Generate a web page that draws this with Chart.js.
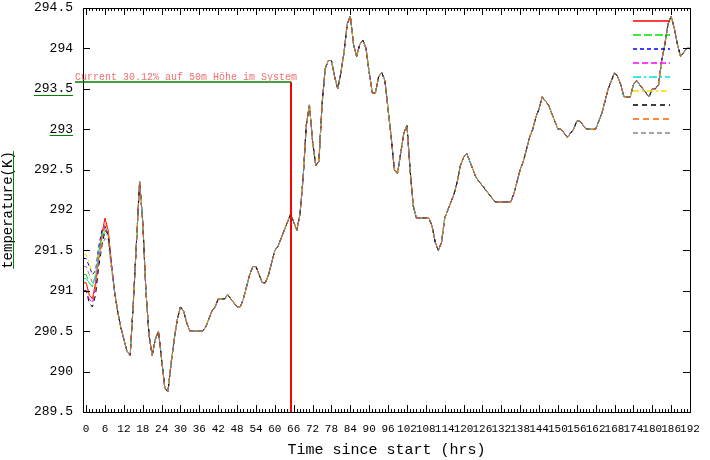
<!DOCTYPE html>
<html><head><meta charset="utf-8">
<script src="https://cdn.jsdelivr.net/npm/chart.js@4.4.1/dist/chart.umd.min.js"></script>
<style>html,body{margin:0;padding:0;background:#fff}#wrap{width:710px;height:460px}</style>
</head><body><div id="wrap"><canvas id="c" width="710" height="460"></canvas></div>
<script>
// ---- data (hours -1 .. 192) ----
const headRed     = [291.1, 291.1, 290.95, 290.9, 291.1, 291.4, 291.7, 291.9, 291.75, 291.35];
const headGreen   = [291.2, 291.2, 291.1, 291.05, 291.2, 291.5, 291.7, 291.8, 291.7, 291.35];
const headBlue    = [291.4, 291.4, 291.3, 291.2, 291.25, 291.55, 291.75, 291.8, 291.7, 291.35];
const headMagenta = [291.0, 291.0, 290.9, 290.85, 291.05, 291.4, 291.65, 291.8, 291.7, 291.35];
const headCyan    = [291.15, 291.15, 291.1, 291.05, 291.2, 291.45, 291.65, 291.75, 291.65, 291.3];
const headYellow  = [291.45, 291.45, 291.35, 291.2, 291.2, 291.45, 291.6, 291.75, 291.7, 291.3];
const headBlack   = [291.0, 291.0, 290.85, 290.8, 290.95, 291.3, 291.55, 291.75, 291.7, 291.3];
const headOrange  = [291.1, 291.1, 290.95, 290.9, 291.05, 291.4, 291.65, 291.85, 291.75, 291.35];
const headGray    = [291.3, 291.3, 291.2, 291.1, 291.15, 291.4, 291.55, 291.65, 291.6, 291.3];
// shared part, hours 9 .. 192
const tail = [
 291.0, 290.75, 290.55, 290.4, 290.25, 290.2, 290.85, 291.6, 292.35, 291.85,
 291.0, 290.45, 290.2, 290.4, 290.5, 290.15, 289.8, 289.75, 290.1, 290.4,
 290.65, 290.8, 290.75, 290.6, 290.5, 290.5, 290.5, 290.5, 290.5, 290.55,
 290.65, 290.75, 290.8, 290.9, 290.9, 290.9, 290.95, 290.9, 290.85, 290.8,
 290.8, 290.9, 291.05, 291.2, 291.3, 291.3, 291.2, 291.1, 291.1, 291.2,
 291.35, 291.5, 291.55, 291.65, 291.75, 291.85, 291.95, 291.85, 291.75, 291.95,
 292.4, 293.05, 293.3, 292.85, 292.55, 292.6, 293.3, 293.75, 293.85, 293.85,
 293.65, 293.5, 293.7, 293.95, 294.3, 294.4, 294.05, 293.9, 294.05, 294.1,
 294.0, 293.7, 293.45, 293.45, 293.65, 293.7, 293.6, 293.25, 292.9, 292.5,
 292.45, 292.7, 292.95, 293.05, 292.5, 292.05, 291.9, 291.9, 291.9, 291.9,
 291.9, 291.8, 291.6, 291.5, 291.6, 291.9, 292.0, 292.1, 292.2, 292.35,
 292.55, 292.65, 292.7, 292.6, 292.5, 292.4, 292.35, 292.3, 292.25, 292.2,
 292.15, 292.1, 292.1, 292.1, 292.1, 292.1, 292.1, 292.2, 292.35, 292.5,
 292.6, 292.75, 292.9, 293.0, 293.15, 293.25, 293.4, 293.35, 293.3, 293.2,
 293.1, 293.0, 293.0, 292.95, 292.9, 292.95, 293.0, 293.1, 293.1, 293.05,
 293.0, 293.0, 293.0, 293.0, 293.1, 293.2, 293.35, 293.5, 293.6, 293.7,
 293.65, 293.55, 293.4, 293.4, 293.4, 293.55, 293.6, 293.55, 293.5, 293.45,
 293.4, 293.5, 293.5, 293.55, 293.85, 294.05, 294.3, 294.4, 294.25, 294.05,
 293.9, 293.95, 294.0, 294.0
];
const firstHour = -1;
const xTickValues = [0,6,12,18,24,30,36,42,48,54,60,66,72,78,84,90,96,102,108,114,120,126,132,138,144,150,156,162,168,174,180,186,192];
const yTickValues = [289.5,290,290.5,291,291.5,292,292.5,293,293.5,294,294.5];
const currentHour = 65;
const currentLevel = 293.58;
const currentText = 'Current 30.12% auf 50m Höhe im System';
const underlinedTicks = [293.5, 293];

const heads = [headRed, headGreen, headBlue, headMagenta, headCyan, headYellow, headBlack, headOrange, headGray];
const colors = ['#ff0000','#00e000','#0000ff','#ff00ff','#00e0e0','#f0e000','#000000','#ff6000','#888888'];
const dashes = [[], [8,3], [4,3], [6,3], [8,3,2,3], [6,3,2,3], [5,4], [6,4], [5,3]];

const datasets = heads.map((h, i) => {
  const vals = h.concat(tail);
  return {
    label: '',
    data: vals.map((v, k) => ({x: firstHour + k, y: v})),
    borderColor: colors[i], borderDash: dashes[i], borderWidth: 1,
    pointRadius: 0, tension: 0, fill: false,
    order: heads.length - 1 - i
  };
});

const MONO = '"Liberation Mono", "DejaVu Sans Mono", monospace';

const decor = {
  id: 'decor',
  afterDatasetsDraw(chart) {
    const {ctx, chartArea: a, scales: {x, y}} = chart;
    ctx.save();
    ctx.setLineDash([]);
    ctx.lineWidth = 1;
    // frame & ticks
    ctx.strokeStyle = '#000';
    ctx.beginPath();
    for (const v of yTickValues) {
      const py = Math.round(y.getPixelForValue(v)) + 0.5;
      ctx.moveTo(a.left, py); ctx.lineTo(a.left + 7, py);
      ctx.moveTo(a.right, py); ctx.lineTo(a.right - 7, py);
    }
    for (let k = 0; k < xTickValues.length; k++) {
      const v = xTickValues[k];
      const px = Math.round(x.getPixelForValue(v)) + 0.5;
      ctx.moveTo(px, a.bottom); ctx.lineTo(px, a.bottom - 7);
      ctx.moveTo(px, a.top); ctx.lineTo(px, a.top + 7);
      for (let m = 1; m < 6; m++) {
        const mv = v + m;
        if (mv > x.max) break;
        const mx = Math.round(x.getPixelForValue(mv)) + 0.5;
        ctx.moveTo(mx, a.bottom); ctx.lineTo(mx, a.bottom - 3);
        ctx.moveTo(mx, a.top); ctx.lineTo(mx, a.top + 3);
      }
    }
    ctx.stroke();
    ctx.strokeRect(Math.round(a.left) + 0.5, Math.round(a.top) + 0.5, Math.round(a.right - a.left), Math.round(a.bottom - a.top));
    // annotation
    const cx = Math.round(x.getPixelForValue(currentHour));
    const cy = Math.round(y.getPixelForValue(currentLevel));
    ctx.strokeStyle = '#ff0000'; ctx.lineWidth = 2;
    ctx.beginPath(); ctx.moveTo(cx, cy); ctx.lineTo(cx, a.bottom); ctx.stroke();
    ctx.strokeStyle = '#008000'; ctx.lineWidth = 1.5;
    ctx.beginPath(); ctx.moveTo(a.left - 8, cy); ctx.lineTo(cx, cy); ctx.stroke();
    ctx.fillStyle = '#f07070'; ctx.font = '10px ' + MONO;
    ctx.textBaseline = 'alphabetic'; ctx.textAlign = 'left';
    ctx.fillText(currentText, a.left - 8, cy - 2);
    // legend samples (key without titles)
    ctx.lineWidth = 1.5;
    datasets.forEach((d, i) => {
      const ly = Math.round(a.top + 13 + 14 * i);
      ctx.strokeStyle = d.borderColor; ctx.setLineDash(d.borderDash);
      ctx.beginPath(); ctx.moveTo(a.right - 57, ly); ctx.lineTo(a.right - 20, ly); ctx.stroke();
    });
    ctx.setLineDash([]);
    // underlines
    ctx.strokeStyle = '#008000'; ctx.lineWidth = 1;
    ctx.font = '13px ' + MONO;
    for (const v of underlinedTicks) {
      const py = Math.round(y.getPixelForValue(v) + 6) + 0.5;
      const w = ctx.measureText(String(v)).width;
      ctx.beginPath(); ctx.moveTo(a.left - 10 - w, py); ctx.lineTo(a.left - 10, py); ctx.stroke();
    }
    ctx.font = '14px ' + MONO;
    const tw = ctx.measureText('temperature(K)').width;
    const my = (a.top + a.bottom) / 2;
    ctx.beginPath(); ctx.moveTo(13.5, my - tw / 2); ctx.lineTo(13.5, my + tw / 2); ctx.stroke();
    ctx.restore();
  }
};

new Chart(document.getElementById('c'), {
  type: 'line',
  data: { datasets },
  options: {
    responsive: false, devicePixelRatio: 1, animation: false,
    layout: { padding: { left: 0, right: 20, top: 8, bottom: 0 } },
    plugins: { legend: { display: false }, tooltip: { enabled: false } },
    scales: {
      x: {
        type: 'linear', min: -1, max: 192,
        afterBuildTicks: s => { s.ticks = xTickValues.map(v => ({ value: v })); },
        afterFit: s => { s.height = 48; s.paddingLeft = 0; s.paddingRight = 0; },
        grid: { display: false, drawTicks: false }, border: { display: false },
        ticks: { autoSkip: false, maxRotation: 0, padding: 10, color: '#000',
                 font: { family: MONO, size: 11 }, callback: v => String(v) },
        title: { display: true, text: 'Time since start (hrs)', color: '#000',
                 font: { family: MONO, size: 15 }, padding: { top: 0, bottom: 1 } }
      },
      y: {
        min: 289.5, max: 294.5,
        afterBuildTicks: s => { s.ticks = yTickValues.map(v => ({ value: v })); },
        afterFit: s => { s.width = 83; s.paddingTop = 0; s.paddingBottom = 0; },
        grid: { display: false, drawTicks: false }, border: { display: false },
        ticks: { padding: 10, color: '#000', font: { family: MONO, size: 13 },
                 callback: v => String(v) },
        title: { display: true, text: 'temperature(K)', color: '#000',
                 font: { family: MONO, size: 14 }, padding: { top: 0, bottom: 0 } }
      }
    }
  },
  plugins: [decor]
});
</script></body></html>
